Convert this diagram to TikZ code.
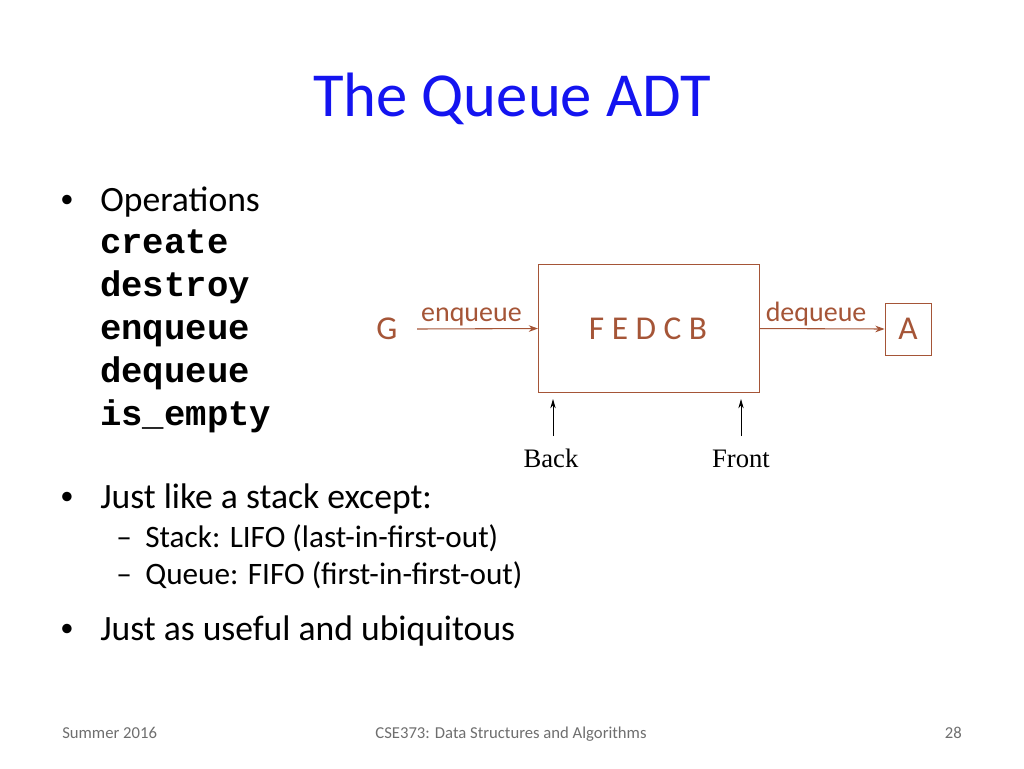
\documentclass[tikz,border=0pt]{standalone}
\usepackage{fontspec}
\setmainfont{Carlito}
\newfontfamily\cour{Liberation Mono}
\newfontfamily\tms{Liberation Serif}
\usetikzlibrary{arrows.meta}
\definecolor{br}{RGB}{165,85,55}
\definecolor{ttl}{RGB}{20,20,240}
\definecolor{ft}{RGB}{110,110,110}
\tikzset{
 body/.style={anchor=base west,inner sep=0pt,font=\fontsize{26.7}{32}\selectfont},
 code/.style={anchor=base west,inner sep=0pt,font=\fontsize{26.7}{32}\selectfont\cour\bfseries},
 sub/.style={anchor=base west,inner sep=0pt,font=\fontsize{23.4}{28}\selectfont},
 foot/.style={anchor=base,inner sep=0pt,text=ft,font=\fontsize{12.5}{15}\selectfont},
 brt/.style={text=br,inner sep=0pt},
 barr/.style={draw=br,-{Stealth[length=7pt,width=5pt]},line width=0.8pt},
 karr/.style={draw=black,-{Stealth[length=7pt,width=4pt]},line width=0.6pt},
}
\begin{document}
\begin{tikzpicture}[x=0.75pt,y=-0.75pt]
\useasboundingbox (0,0) rectangle (1024,768);
\node[text=ttl,font=\fontsize{47}{56}\selectfont,anchor=base] (title) at (512,116) {The Queue ADT};
\node[body,font=\fontsize{20}{24}\selectfont] (b1) at (60,207) {•};
\node[body] (ops) at (100,211) {Operations};
\node[code] (c1) at (100,253) {create};
\node[code] (c2) at (100,296) {destroy};
\node[code] (c3) at (100,339) {enqueue};
\node[code] (c4) at (100,382) {dequeue};
\node[code] (c5) at (100,425) {is\_empty};
\node[body,font=\fontsize{20}{24}\selectfont] (b2) at (60,504) {•};
\node[body] (jl) at (100,508) {Just like a stack except:};
\node[sub] (d1) at (116,547) {–};
\node[sub] (s1) at (145,547) {Stack: LIFO (last-in-first-out)};
\node[sub] (d2) at (116,584) {–};
\node[sub] (s2) at (145,584) {Queue: FIFO (first-in-first-out)};
\node[body,font=\fontsize{20}{24}\selectfont] (b3) at (60,636) {•};
\node[body] (ju) at (100,640) {Just as useful and ubiquitous};
% diagram
\node[draw=br,line width=0.8pt,minimum width=221*0.75pt,minimum height=128*0.75pt,anchor=north west,inner sep=0pt] (box) at (538,264) {};
\node[brt,font=\fontsize{25}{30}\selectfont] (fed) at (648,329) {F E D C B};
\node[brt,font=\fontsize{25}{30}\selectfont] (g) at (387,329) {G};
\node[draw=br,line width=0.6pt,minimum width=46*0.75pt,minimum height=52*0.75pt,inner sep=0pt,text=br,font=\fontsize{25}{30}\selectfont] (a) at (908,329) {A};
\coordinate (gs) at (417,329);
\draw[barr] (gs) -- (box.west) node[pos=0.45,above=2pt,brt,font=\fontsize{21}{24}\selectfont] (enq) {enqueue};
\draw[barr] (box.east) -- (a.west) node[pos=0.45,above=2pt,brt,font=\fontsize{21}{24}\selectfont] (deq) {dequeue};
\node[font=\fontsize{20}{24}\selectfont\tms,anchor=base] (back) at (551,467) {Back};
\node[font=\fontsize{20}{24}\selectfont\tms,anchor=base] (front) at (741,467) {Front};
\coordinate (bk1) at (553,436);\coordinate (bk2) at (553,399);
\coordinate (fr1) at (741,436);\coordinate (fr2) at (741,399);
\draw[karr] (bk1) -- (bk2);
\draw[karr] (fr1) -- (fr2);
% footer
\node[foot,anchor=base west] (f1) at (62,738) {Summer 2016};
\node[foot] (f2) at (511,738) {CSE373: Data Structures and Algorithms};
\node[foot,anchor=base east] (f3) at (962,738) {28};
\end{tikzpicture}
\end{document}
